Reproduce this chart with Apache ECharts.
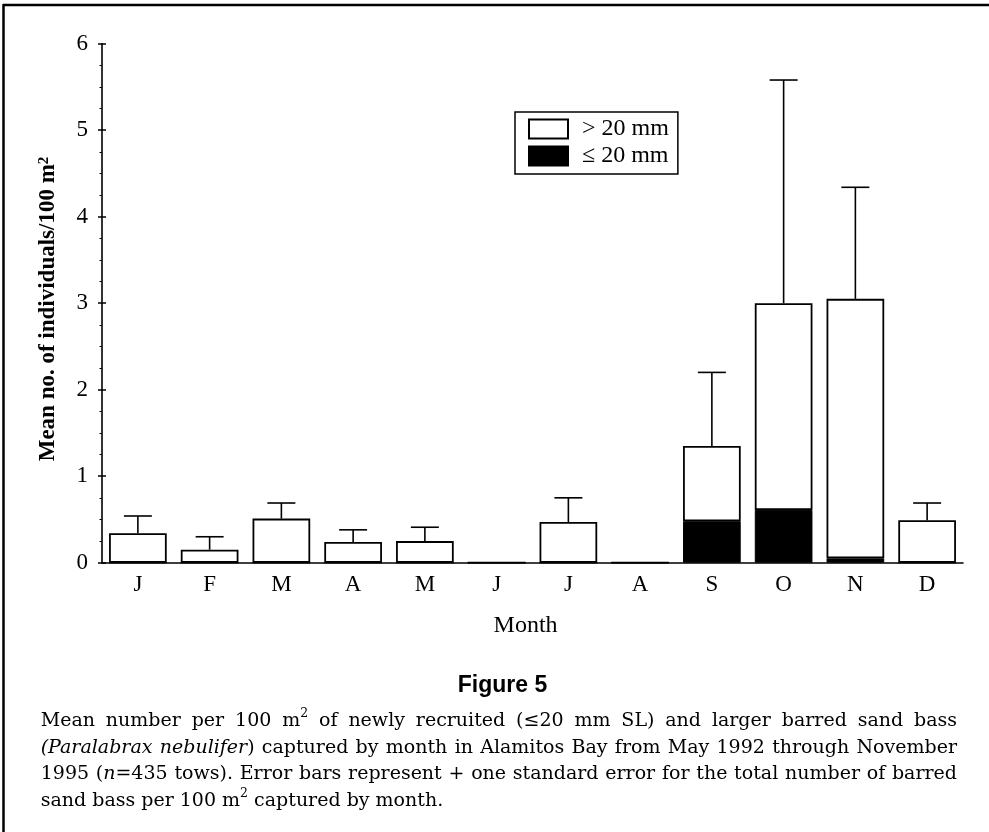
<!DOCTYPE html>
<html>
<head>
<meta charset="utf-8">
<script src="https://cdn.jsdelivr.net/npm/echarts@6/dist/echarts.min.js"></script>
<style>
html,body{margin:0;padding:0;background:#fff;}
#chart{width:989px;height:832px;}
</style>
</head>
<body>
<div id="chart"></div>
<script>
// ---- data ----
const months = ['J','F','M','A','M','J','J','A','S','O','N','D'];
const small20 = [0, 0, 0, 0, 0, 0, 0, 0, 0.48, 0.61, 0.05, 0];          // <= 20 mm (black)
const large20 = [0.34, 0.15, 0.51, 0.24, 0.25, 0, 0.47, 0, 0.87, 2.39, 3.0, 0.49]; // > 20 mm (white)
const errTop = [0.54, 0.30, 0.69, 0.38, 0.41, null, 0.75, null, 2.20, 5.58, 4.34, 0.69]; // mean + 1 SE
const yTicks = [0, 1, 2, 3, 4, 5, 6];

const chart = echarts.init(document.getElementById('chart'), null, {renderer: 'canvas'});

const errData = [];
months.forEach((m, i) => {
  if (errTop[i] != null) errData.push([i, small20[i] + large20[i], errTop[i]]);
});

// ---- caption layout (justified text) ----
const SERIF = 'DejaVu Serif';
const capLines = [
  [[['Mean','n']],[['number','n']],[['per','n']],[['100','n']],[['m','n'],['2','s']],[['of','n']],[['newly','n']],[['recruited','n']],[['(\u226420','n']],[['mm','n']],[['SL)','n']],[['and','n']],[['larger','n']],[['barred','n']],[['sand','n']],[['bass','n']]],
  [[['(Paralabrax','i']],[['nebulifer','i'],[')','n']],[['captured','n']],[['by','n']],[['month','n']],[['in','n']],[['Alamitos','n']],[['Bay','n']],[['from','n']],[['May','n']],[['1992','n']],[['through','n']],[['November','n']]],
  [[['1995','n']],[['(','n'],['n','i'],['=435','n']],[['tows).','n']],[['Error','n']],[['bars','n']],[['represent','n']],[['+','n']],[['one','n']],[['standard','n']],[['error','n']],[['for','n']],[['the','n']],[['total','n']],[['number','n']],[['of','n']],[['barred','n']]],
  [[['sand','n']],[['bass','n']],[['per','n']],[['100','n']],[['m','n'],['2','s']],[['captured','n']],[['by','n']],[['month.','n']]]
];
const cv = document.createElement('canvas').getContext('2d');
function fontStr(st, size) {
  const s = st === 's' ? size * 0.66 : size;
  return (st === 'i' ? 'italic ' : '') + s + 'px "' + SERIF + '"';
}
function runW(r, size) { cv.font = fontStr(r[1], size); return cv.measureText(r[0]).width; }
function wordW(w, size) { return w.reduce((a, r) => a + runW(r, size), 0); }
const capX0 = 40.7, capX1 = 957, capW = capX1 - capX0;
let capSize = 19;
(function fit() {
  cv.font = fontStr('n', capSize);
  const sp = cv.measureText(' ').width * 0.5;
  let maxW = 0;
  capLines.slice(0, 3).forEach(l => {
    const w = l.reduce((a, wd) => a + wordW(wd, capSize), 0) + sp * (l.length - 1);
    if (w > maxW) maxW = w;
  });
  if (maxW > capW) capSize = capSize * capW / maxW;
})();
const baselines = [726.7, 753.3, 780, 806.7];
const capGraphics = [];
capLines.forEach((line, li) => {
  const widths = line.map(w => wordW(w, capSize));
  const total = widths.reduce((a, b) => a + b, 0);
  cv.font = fontStr('n', capSize);
  let gap = cv.measureText(' ').width;
  if (li < 3) gap = (capW - total) / (line.length - 1);
  let x = capX0;
  const yMid = baselines[li] - capSize * 0.3;
  line.forEach((word, wi) => {
    let xx = x;
    word.forEach(r => {
      const isSup = r[1] === 's';
      capGraphics.push({
        type: 'text', x: xx, y: isSup ? yMid - capSize * 0.36 : yMid, silent: true,
        style: {
          text: r[0], fontFamily: SERIF, fontSize: isSup ? capSize * 0.66 : capSize,
          fontStyle: r[1] === 'i' ? 'italic' : 'normal', fill: '#000',
          align: 'left', verticalAlign: 'middle'
        }
      });
      xx += runW(r, capSize);
    });
    x += widths[wi] + gap;
  });
});

const axisFont = {fontFamily: 'Liberation Serif', fontSize: 23, color: '#000'};

const option = {
  animation: false,
  backgroundColor: '#fff',
  grid: {left: 102, right: 26, top: 43.7, bottom: 269.3, containLabel: false},
  legend: {
    orient: 'vertical', left: 515, top: 112,
    data: ['> 20 mm', '\u2264 20 mm'],
    itemWidth: 39, itemHeight: 19, itemGap: 3,
    padding: [5, 9, 6, 13],
    borderColor: '#000', borderWidth: 1.5, borderRadius: 0,
    backgroundColor: '#fff',
    icon: 'rect',
    textStyle: {fontFamily: 'Liberation Serif', fontSize: 24, color: '#000', padding: [0, 0, 0, 9]},
    selectedMode: false
  },
  xAxis: {
    type: 'category', data: months,
    axisLine: {lineStyle: {color: '#000', width: 1.6}},
    axisTick: {show: false},
    axisLabel: Object.assign({margin: 11, interval: 0}, axisFont),
    splitLine: {show: false}
  },
  yAxis: [{
    type: 'value', min: yTicks[0], max: yTicks[yTicks.length - 1], interval: 1,
    axisLine: {show: true, lineStyle: {color: '#000', width: 1.6}},
    axisTick: {show: true, length: 4, lineStyle: {color: '#000', width: 1.5}},
    minorTick: {show: true, splitNumber: 4, length: 2.5, lineStyle: {color: '#000', width: 1}},
    axisLabel: Object.assign({margin: 14}, axisFont),
    splitLine: {show: false}
  }, {
    type: 'value', position: 'left', min: yTicks[0], max: yTicks[yTicks.length - 1], interval: 1,
    axisLine: {show: false},
    axisTick: {show: true, inside: true, length: 4, lineStyle: {color: '#000', width: 1.5}},
    axisLabel: {show: false},
    splitLine: {show: false}
  }],
  series: [{
    name: '\u2264 20 mm', type: 'bar', stack: 'tot', data: small20,
    barCategoryGap: '19.6%',
    itemStyle: {color: '#000', borderColor: '#000', borderWidth: 1}
  }, {
    name: '> 20 mm', type: 'bar', stack: 'tot', data: large20,
    barCategoryGap: '19.6%',
    itemStyle: {color: '#fff', borderColor: '#000', borderWidth: 1.8}
  }, {
    type: 'custom', name: 'err', data: errData, z: 3,
    encode: {x: 0, y: [1, 2]},
    renderItem: function (params, api) {
      const p0 = api.coord([api.value(0), api.value(1)]);
      const p1 = api.coord([api.value(0), api.value(2)]);
      const half = api.size([1, 0])[0] * 0.195;
      const st = {stroke: '#000', lineWidth: 1.6};
      return {type: 'group', children: [
        {type: 'line', shape: {x1: p0[0], y1: p0[1], x2: p1[0], y2: p1[1]}, style: st},
        {type: 'line', shape: {x1: p1[0] - half, y1: p1[1], x2: p1[0] + half, y2: p1[1]}, style: st}
      ]};
    }
  }],
  graphic: [
    {type: 'line', silent: true, shape: {x1: 3, y1: 5, x2: 989, y2: 5}, style: {stroke: '#000', lineWidth: 2.5}},
    {type: 'line', silent: true, shape: {x1: 3.5, y1: 4, x2: 3.5, y2: 832}, style: {stroke: '#000', lineWidth: 2.5}},
    {type: 'text', silent: true, x: 48, y: 309, rotation: Math.PI / 2,
      style: {
        text: '{a|Mean no. of individuals/100 m}{s|2}',
        align: 'center', verticalAlign: 'middle',
        rich: {
          a: {fontFamily: 'Liberation Serif', fontWeight: 'bold', fontSize: 23, fill: '#000', color: '#000'},
          s: {fontFamily: 'Liberation Serif', fontWeight: 'bold', fontSize: 15, fill: '#000', color: '#000', verticalAlign: 'top'}
        }
      }},
    {type: 'text', silent: true, x: 525.6, y: 626,
      style: {text: 'Month', fontFamily: 'Liberation Serif', fontSize: 24, fill: '#000', align: 'center', verticalAlign: 'middle'}},
    {type: 'text', silent: true, x: 502.5, y: 686,
      style: {text: 'Figure 5', fontFamily: 'Liberation Sans', fontWeight: 'bold', fontSize: 23, fill: '#000', align: 'center', verticalAlign: 'middle'}}
  ].concat(capGraphics)
};
chart.setOption(option);
</script>
</body>
</html>
